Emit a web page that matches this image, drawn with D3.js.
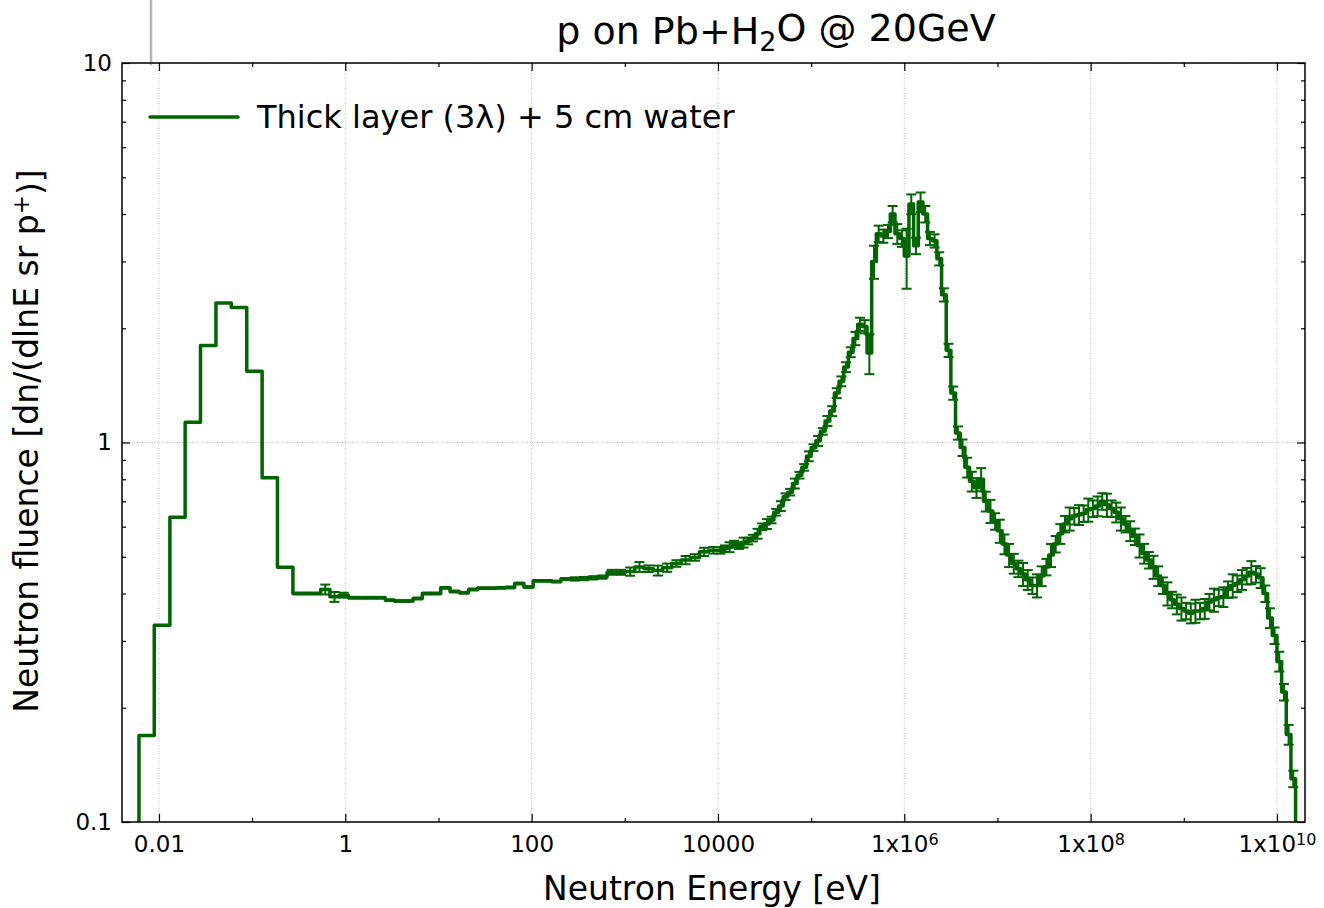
<!DOCTYPE html>
<html>
<head>
<meta charset="utf-8">
<script src="https://cdn.jsdelivr.net/npm/d3@7"></script>
<style>
  body { margin: 0; background: #fff; }
  text { font-family: "DejaVu Sans", sans-serif; fill: #000; }
</style>
</head>
<body>
<svg id="chart" width="1324" height="908"></svg>
<script>
// thermal region, coarse bins (edges in eV)
const coarseEdges = [0.0061, 0.0089, 0.0131, 0.0191, 0.0279, 0.0409, 0.0598, 0.0875, 0.128, 0.187, 0.274];
const coarseFluence = [0.169, 0.33, 0.635, 1.13, 1.80, 2.33, 2.27, 1.54, 0.807, 0.469];
const coarseErr = [0, 0, 0, 0, 0, 0, 0, 0, 0, 0]; // percent

// epithermal region, log bins from 0.274 eV to 10 keV
const midRange = [0.274, 1e4];
const midFluence = [
  0.40, 0.40, 0.40, 0.41, 0.392, 0.396, 0.39, 0.39, 0.39, 0.39,
  0.384, 0.382, 0.382, 0.388, 0.40, 0.40, 0.414, 0.405, 0.402, 0.41,
  0.413, 0.413, 0.414, 0.415, 0.425, 0.416, 0.432, 0.432, 0.43, 0.437,
  0.437, 0.438, 0.44, 0.442, 0.455, 0.455, 0.457, 0.47, 0.465, 0.46,
  0.468, 0.48, 0.49, 0.498, 0.515, 0.52
];
const midErr = [
  0.5, 0.5, 0.5, 3, 3, 1.5, 0.5, 0.5, 0.5, 0.5,
  0.5, 0.5, 0.5, 0.5, 0.5, 0.5, 0.5, 0.5, 0.5, 0.5,
  0.5, 0.5, 0.5, 0.5, 0.5, 0.5, 0.5, 0.5, 0.5, 0.5,
  1, 1, 1, 1, 1.5, 1.5, 2.5, 3, 2, 3,
  2.5, 2, 2.5, 2, 2.5, 2
];

// fast region, 20 bins per decade from 10 keV up
const fineStart = 1e4;
const fineBinsPerDecade = 20;
const fineFluence = [
  0.52, 0.525, 0.53, 0.54, 0.535, 0.545, 0.55, 0.56, 0.575, 0.60,
  0.61, 0.625, 0.655, 0.68, 0.72, 0.74, 0.78, 0.82, 0.86, 0.92,
  0.97, 1.01, 1.07, 1.14, 1.21, 1.35, 1.45, 1.58, 1.73, 1.88,
  2.05, 2.02, 1.72, 3.0, 3.55, 3.5, 3.6, 4.0, 3.55, 3.45,
  3.1, 4.25, 3.3, 4.3, 4.0, 3.45, 3.4, 3.05, 2.45, 1.75,
  1.35, 1.06, 0.97, 0.86, 0.79, 0.76, 0.80, 0.70, 0.66, 0.62,
  0.585, 0.54, 0.505, 0.48, 0.465, 0.45, 0.435, 0.42, 0.42, 0.445,
  0.47, 0.505, 0.54, 0.575, 0.61, 0.63, 0.64, 0.645, 0.65, 0.665,
  0.67, 0.68, 0.70, 0.685, 0.67, 0.655, 0.63, 0.61, 0.585, 0.565,
  0.535, 0.51, 0.49, 0.47, 0.445, 0.42, 0.40, 0.385, 0.375, 0.365,
  0.36, 0.355, 0.36, 0.36, 0.365, 0.38, 0.385, 0.39, 0.392, 0.41,
  0.42, 0.425, 0.435, 0.445, 0.455, 0.45, 0.44, 0.40, 0.345, 0.31,
  0.265, 0.22, 0.17, 0.13, 0.085
];
const fineErr = [
  2, 2, 3, 2, 2, 3, 2, 2, 3, 2, 3, 2, 2, 3, 2, 2, 3, 2, 2, 3, 2,
  3, 2, 3, 3, 3, 3, 3, 3, 4, 4, 4,
  12, 10,
  5, 4, 4, 5, 6, 5,
  18,
  6, 5, 6, 5, 4, 4, 4,
  4, 4, 4, 4, 5, 6, 6, 6, 7,
  6, 7, 5, 7, 6, 7, 6, 5, 7, 6, 5, 7, 6, 5,
  7, 5, 6, 5, 7, 5, 6, 5, 7, 5, 6, 5, 7, 5, 6, 7, 5, 6, 5, 7,
  6, 5, 7, 6, 5, 7, 5, 6, 7, 5, 6, 7, 5, 6, 5, 7, 5, 6, 5, 7,
  5, 6, 5, 7, 5, 6, 5, 6, 5, 6, 5, 6, 5, 6
];

const xTicks = [0.01, 1, 100, 1e4, 1e6, 1e8, 1e10];
const xTickLabels = ["0.01", "1", "100", "10000", "1x10^6", "1x10^8", "1x10^10"];
const xMinorTicks = [0.1, 10, 1000, 1e5, 1e7, 1e9];
const yTicks = [0.1, 1, 10];
const yTickLabels = ["0.1", "1", "10"];
const yMinorTicks = [0.2, 0.3, 0.4, 0.5, 0.6, 0.7, 0.8, 0.9, 2, 3, 4, 5, 6, 7, 8, 9];

const legendLabel = "Thick layer (3\u03bb) + 5 cm water";
const lineColor = "#006400";

// build bin list
const bins = [];
coarseFluence.forEach((v, i) => bins.push({ lo: coarseEdges[i], hi: coarseEdges[i + 1], v: v, err: coarseErr[i] }));
const midStep = Math.log10(midRange[1] / midRange[0]) / midFluence.length;
midFluence.forEach((v, i) => bins.push({
  lo: midRange[0] * Math.pow(10, i * midStep),
  hi: midRange[0] * Math.pow(10, (i + 1) * midStep),
  v: v, err: midErr[i]
}));
fineFluence.forEach((v, i) => bins.push({
  lo: fineStart * Math.pow(10, i / fineBinsPerDecade),
  hi: fineStart * Math.pow(10, (i + 1) / fineBinsPerDecade),
  v: v, err: fineErr[i]
}));

const margin = { top: 63, right: 19, bottom: 86, left: 122 };
const width = 1324 - margin.left - margin.right,
      height = 908 - margin.top - margin.bottom;

const svg = d3.select("#chart");

// stray grey line at the top
svg.append("line")
  .attr("x1", 151).attr("x2", 151).attr("y1", 0).attr("y2", 65)
  .attr("stroke", "#b4b4b4").attr("stroke-width", 2.5);

const g = svg.append("g").attr("transform", `translate(${margin.left},${margin.top})`);

const x = d3.scaleLog().domain([0.00401, 2.0e10]).range([0, width]);
const y = d3.scaleLog().domain([0.1, 10]).range([height, 0]);

g.append("defs").append("clipPath").attr("id", "plotclip")
  .append("rect").attr("width", width).attr("height", height);

// grid
g.selectAll(".vgrid").data(xTicks).enter().append("line")
  .attr("x1", d => x(d)).attr("x2", d => x(d))
  .attr("y1", 0).attr("y2", height)
  .attr("stroke", "#b0b0b0").attr("stroke-width", 0.8).attr("stroke-dasharray", "1,1.5");
g.selectAll(".hgrid").data(yTicks).enter().append("line")
  .attr("x1", 0).attr("x2", width)
  .attr("y1", d => y(d)).attr("y2", d => y(d))
  .attr("stroke", "#b0b0b0").attr("stroke-width", 0.8).attr("stroke-dasharray", "1,1.5");

// step line
const pts = [{ e: bins[0].lo, v: y.domain()[0] }];
bins.forEach(b => pts.push({ e: b.lo, v: b.v }));
pts.push({ e: bins[bins.length - 1].hi, v: bins[bins.length - 1].v });
pts.push({ e: bins[bins.length - 1].hi, v: 0.05 });

const plot = g.append("g").attr("clip-path", "url(#plotclip)");

plot.append("path")
  .datum(pts)
  .attr("fill", "none")
  .attr("stroke", lineColor)
  .attr("stroke-width", 3.5)
  .attr("stroke-linejoin", "round")
  .attr("d", d3.line().x(d => x(d.e)).y(d => y(d.v)).curve(d3.curveStepAfter));

// error bars
const eb = bins.filter(b => b.err > 0);
const ebG = plot.append("g").attr("stroke", lineColor).attr("stroke-width", 2);
eb.forEach(b => {
  const xc = x(Math.sqrt(b.lo * b.hi));
  const y1 = y(b.v * (1 + b.err / 100)), y2 = y(b.v * (1 - b.err / 100));
  ebG.append("line").attr("x1", xc).attr("x2", xc).attr("y1", y1).attr("y2", y2);
  ebG.append("line").attr("x1", xc - 5).attr("x2", xc + 5).attr("y1", y1).attr("y2", y1);
  ebG.append("line").attr("x1", xc - 5).attr("x2", xc + 5).attr("y1", y2).attr("y2", y2);
});

// axes, ticks pointing in
function styleAxis(sel) {
  sel.select(".domain").remove();
  sel.selectAll(".tick line").attr("stroke", "#000").attr("stroke-width", 1.2);
  sel.attr("font-family", null).attr("font-size", null);
  sel.selectAll("text").style("font-size", "23px").attr("fill", "#000");
}

const xBottom = g.append("g").attr("transform", `translate(0,${height})`)
  .call(d3.axisBottom(x).tickValues(xTicks).tickSize(-8).tickPadding(14)
    .tickFormat(d => xTickLabels[xTicks.indexOf(d)]));
styleAxis(xBottom);
xBottom.selectAll("text").each(function () {
  const t = d3.select(this);
  const s = t.text();
  if (s.includes("^")) {
    const [base, ex] = s.split("^");
    t.text(null);
    t.append("tspan").text(base);
    t.append("tspan").attr("dy", "-0.45em").style("font-size", "16px").text(ex);
  }
});
styleAxis(g.append("g").attr("transform", `translate(0,${height})`)
  .call(d3.axisBottom(x).tickValues(xMinorTicks).tickSize(-4).tickFormat("")));
styleAxis(g.append("g")
  .call(d3.axisTop(x).tickValues(xTicks).tickSize(-8).tickFormat("")));
styleAxis(g.append("g")
  .call(d3.axisTop(x).tickValues(xMinorTicks).tickSize(-4).tickFormat("")));

const yLeft = g.append("g")
  .call(d3.axisLeft(y).tickValues(yTicks).tickSize(-8).tickPadding(10)
    .tickFormat(d => yTickLabels[yTicks.indexOf(d)]));
styleAxis(yLeft);
styleAxis(g.append("g")
  .call(d3.axisLeft(y).tickValues(yMinorTicks).tickSize(-4).tickFormat("")));
styleAxis(g.append("g").attr("transform", `translate(${width},0)`)
  .call(d3.axisRight(y).tickValues(yTicks).tickSize(-8).tickFormat("")));
styleAxis(g.append("g").attr("transform", `translate(${width},0)`)
  .call(d3.axisRight(y).tickValues(yMinorTicks).tickSize(-4).tickFormat("")));

// frame
g.append("rect").attr("width", width).attr("height", height)
  .attr("fill", "none").attr("stroke", "#000").attr("stroke-width", 1.5);

// legend
g.append("line").attr("x1", 28).attr("x2", 116).attr("y1", 54).attr("y2", 54)
  .attr("stroke", lineColor).attr("stroke-width", 3.5).attr("stroke-linecap", "round");
g.append("text").attr("x", 135).attr("y", 65).style("font-size", "32px").text(legendLabel);

// title
const title = svg.append("text").attr("x", 776).attr("y", 44)
  .attr("text-anchor", "middle").style("font-size", "38px");
title.append("tspan").text("p on Pb+H");
title.append("tspan").attr("dy", "0.25em").style("font-size", "27px").text("2");
title.append("tspan").attr("dy", "-0.25em").text("O @ 20GeV");

// axis labels
svg.append("text").attr("x", 712).attr("y", 900).attr("text-anchor", "middle")
  .style("font-size", "33px").text("Neutron Energy [eV]");

const yl = svg.append("text").attr("transform", "translate(38,441) rotate(-90)")
  .attr("text-anchor", "middle").style("font-size", "33px");
yl.append("tspan").text("Neutron fluence [dn/(dlnE sr p");
yl.append("tspan").attr("dy", "-0.4em").style("font-size", "23px").text("+");
yl.append("tspan").attr("dy", "0.4em").text(")]");
</script>
</body>
</html>
